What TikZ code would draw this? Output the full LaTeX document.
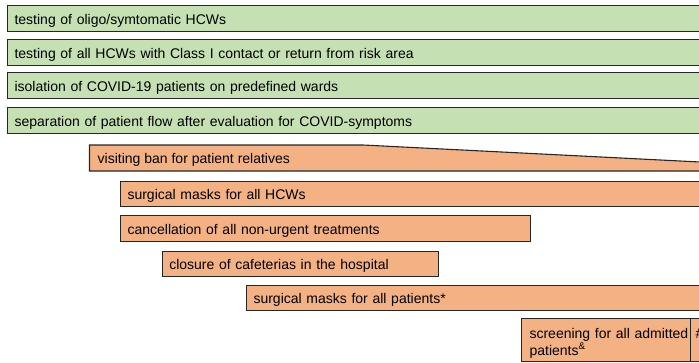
\documentclass[tikz,border=0pt]{standalone}
\usepackage{fontspec}
\setmainfont{Liberation Sans}
\usetikzlibrary{positioning}
\definecolor{measgreen}{HTML}{C5E0B3}
\definecolor{measorange}{HTML}{F4B183}

\begin{document}
\begin{tikzpicture}[x=1pt,y=-1pt,
  bar/.style={rectangle,draw=black!85,line width=1.1pt,anchor=north west,
              minimum height=25pt,inner xsep=7pt,inner ysep=0pt,
              text height=11pt,text depth=0pt,align=left,
              font=\fontsize{14}{16.5}\selectfont},
  greenbar/.style={bar,fill=measgreen},
  orangebar/.style={bar,fill=measorange},
  bartext/.style={anchor=west,inner sep=0pt,text height=11pt,text depth=0pt,
              font=\fontsize{14}{16.5}\selectfont}]
  \useasboundingbox (0,0) rectangle (699,362);
  \clip (0,0) rectangle (699,362);

    % measures for HCWs and patient flow
    \node[greenbar,text width=689pt,minimum height=26pt] (SYMP) at (7,5) {testing of oligo/symtomatic HCWs};
    \node[greenbar,text width=689pt,minimum height=26pt] (CONTACT) at (7,39) {testing of all HCWs with Class I contact or return from risk area};
    \node[greenbar,text width=689pt,minimum height=26pt] (ISOL) at (7,72) {isolation of COVID-19 patients on predefined wards};
    \node[greenbar,text width=689pt,minimum height=26pt] (FLOW) at (7,107) {separation of patient flow after evaluation for COVID-symptoms};

    % visiting ban, fading out to the right
    \filldraw[fill=measorange,draw=black!85,line width=1.1pt]
      (89.5,145) -- (363,145) -- (712,162.6) -- (712,171) -- (89.5,171) -- cycle;
    \node[bartext] (BAN) at (97.5,158) {visiting ban for patient relatives};

    \node[orangebar,text width=576pt] (MASKHCW) at (120,181) {surgical masks for all HCWs};
    \node[orangebar,text width=396pt,minimum height=26pt] (CANCEL) at (120,215) {cancellation of all non-urgent treatments};
    \node[orangebar,text width=262.3pt] (CAFE) at (161.7,251) {closure of cafeterias in the hospital};
    \node[orangebar,text width=450pt] (MASKPAT) at (246,285) {surgical masks for all patients*};
    \node[orangebar,text width=153pt,inner xsep=8pt,minimum height=43pt,
          text height=11pt,text depth=14pt] (SCREEN) at (521,318)
      {\mbox{screening for all admitted}\\patients\textsuperscript{\&}};
    \node[orangebar,text width=20pt,inner xsep=5pt,minimum height=43pt,
          text height=11pt,text depth=14pt] (HASH) at (690,318) {\#};
  
\end{tikzpicture}
\end{document}
